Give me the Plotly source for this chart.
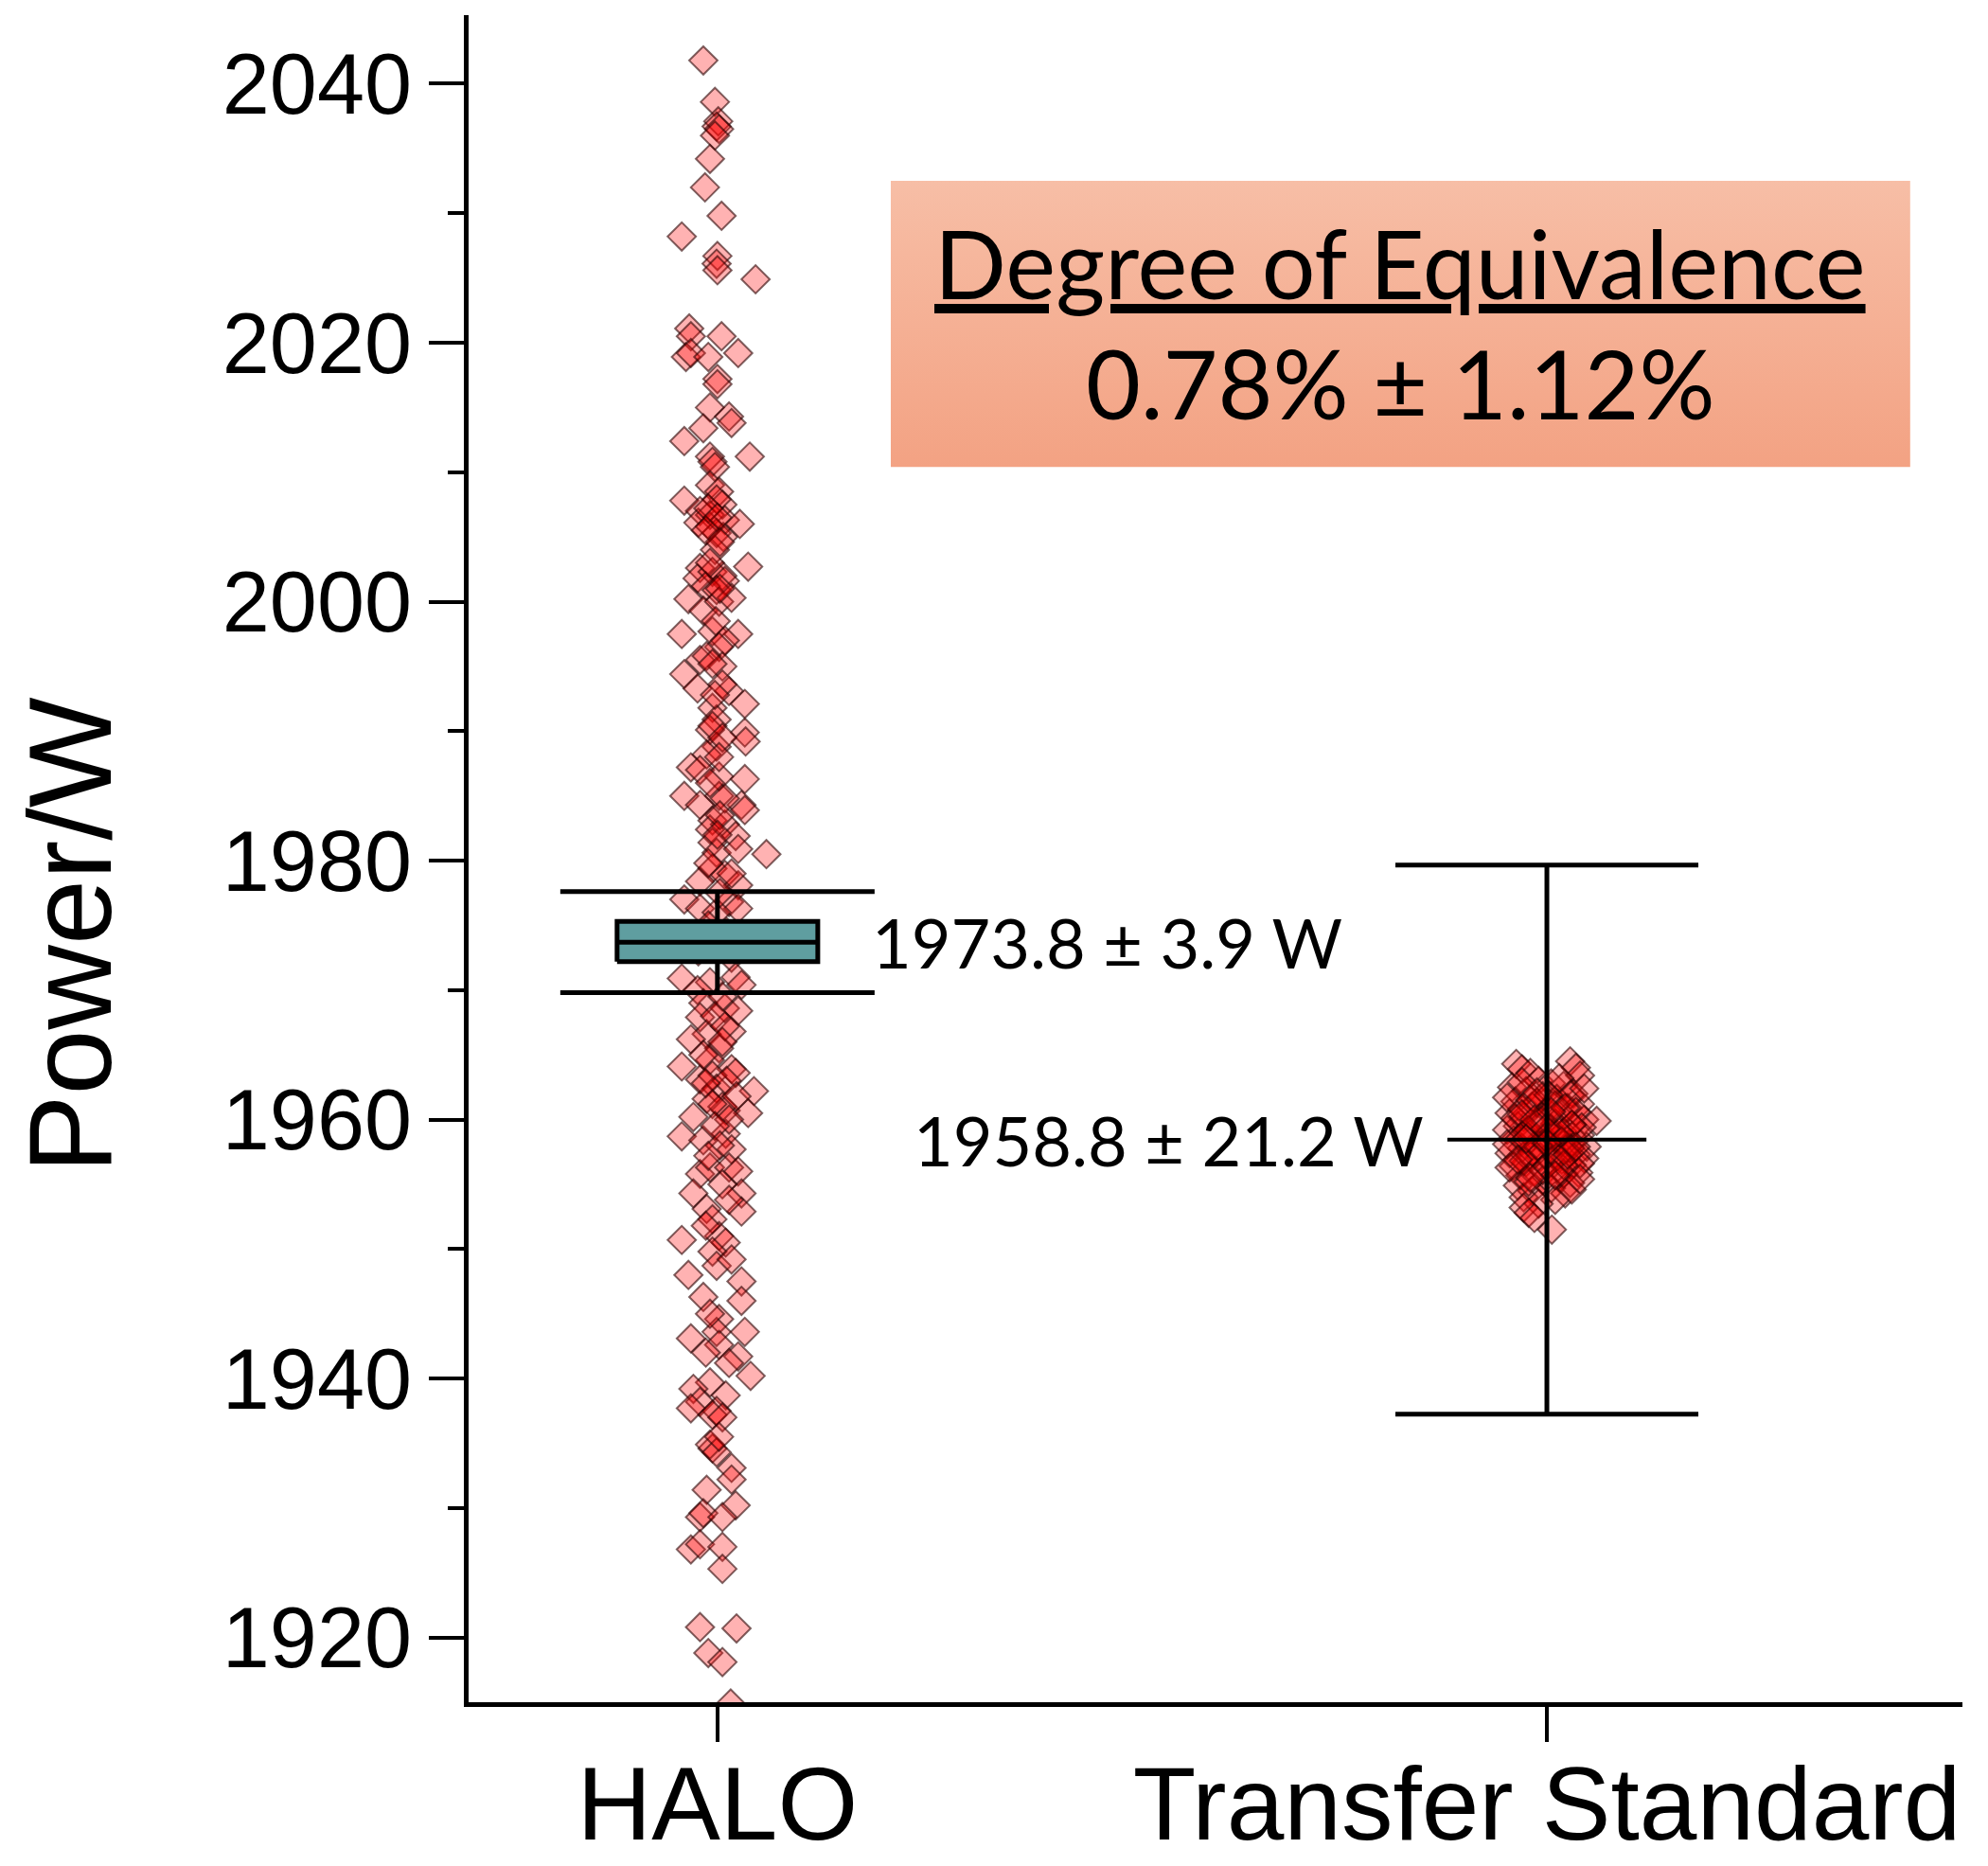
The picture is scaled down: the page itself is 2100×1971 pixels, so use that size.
import plotly.graph_objects as go

# ---------------- data ----------------
categories = ["HALO", "Transfer Standard"]

halo_power = [
    2041.8, 2038.6, 2037.1, 2036.7, 2036.5, 2036.0, 2034.2, 2032.0, 2029.8, 2028.2,
    2026.7, 2026.1, 2025.6, 2024.9, 2021.1, 2020.5, 2020.5, 2018.9, 2019.2, 2018.9,
    2019.2, 2017.2,
    2016.8, 2015.0, 2014.3, 2013.8, 2013.4, 2012.4, 2011.2, 2011.2, 2010.8, 2010.4,
    2009.0, 2008.5, 2007.8, 2007.5, 2007.9, 2007.0, 2006.7, 2006.3, 2006.0, 2006.1,
    2005.3, 2005.8, 2005.0, 2004.0, 2002.6, 2001.8, 2002.3, 2002.0, 2002.7, 2001.6,
    2001.2, 2000.9, 2000.2, 1999.3, 2000.0, 2000.3, 1997.5, 1997.7, 1997.5, 1997.0,
    1996.5, 1995.5, 1995.8, 1995.0, 1994.4, 1993.3, 1993.1, 1993.6, 1992.1, 1991.8,
    1990.9, 1990.1, 1989.9,
    1990.4, 1989.2, 1988.8, 1988.2, 1987.2, 1987.0, 1986.5, 1986.3, 1985.0, 1985.0,
    1984.3, 1984.3, 1983.9, 1983.1, 1982.8, 1982.4, 1981.9, 1981.4, 1980.6, 1980.9,
    1980.5, 1979.4, 1978.9, 1978.4, 1978.1, 1977.0, 1976.3, 1976.8, 1976.3, 1976.0,
    1975.0, 1974.5, 1973.8, 1973.0, 1972.5,
    1970.9, 1970.6, 1971.0, 1970.4, 1970.0, 1969.0, 1968.6, 1968.4, 1967.9, 1966.8,
    1966.6, 1966.2, 1965.5, 1964.6, 1964.1, 1963.9,
    1963.6, 1963.1, 1963.4, 1962.2, 1962.4, 1961.6, 1960.7, 1960.5, 1960.2, 1961.0,
    1958.7, 1958.4, 1958.9, 1957.7, 1955.8, 1956.3, 1956.3, 1956.0, 1954.3, 1954.3,
    1953.1, 1952.9, 1952.3, 1950.7, 1951.0, 1950.5, 1949.8, 1948.7, 1948.0, 1947.5,
    1946.3, 1946.0, 1944.6, 1943.1, 1943.6, 1943.6, 1942.6, 1941.7, 1941.2, 1940.2,
    1939.7, 1939.2, 1938.2, 1938.7, 1937.5,
    1937.7, 1937.2, 1937.0, 1934.6, 1934.9, 1934.3, 1933.1, 1932.2, 1931.4, 1930.2,
    1929.3, 1929.6, 1929.3, 1926.8, 1927.2, 1927.0, 1925.3, 1920.8, 1920.7, 1918.8,
    1918.1, 1914.9,
    2007.2, 2006.5, 2005.5, 2004.6, 2003.0, 2001.0, 1998.5, 1995.2, 1992.8, 1989.5,
    1988.0, 1986.0, 1984.8, 1983.5, 1982.0, 1979.8, 1979.0, 1977.5, 1969.5, 1968.0,
    1967.2, 1966.0, 1965.0, 1963.0, 1962.8, 1961.8, 1961.2, 1960.0, 1959.5, 1958.0,
    1957.2, 1955.0, 1953.8, 1951.8, 1949.2, 1945.0, 1942.0, 1935.5,
]

# horizontal scatter of each HALO point around its category (axis units)
halo_jitter = [
    -0.017, -0.003, 0.001, -0.001, 0.002, -0.003, -0.009, -0.015, 0.005, -0.043,
    0.000, -0.001, 0.000, 0.046, -0.034, -0.032, 0.005, -0.038, -0.032, -0.011,
    0.025, 0.000,
    0.000, -0.009, 0.014, 0.017, -0.017, -0.040, 0.039, -0.009, -0.006, -0.003,
    -0.009, 0.002, -0.040, 0.006, -0.001, -0.021, -0.009, 0.009, 0.027, -0.023,
    -0.001, -0.009, 0.007, -0.003, -0.021, -0.024, -0.006, 0.006, 0.037, 0.009,
    -0.014, -0.001, -0.035, -0.017, 0.002, 0.017, -0.043, -0.006, 0.025, 0.009,
    0.002, -0.021, -0.013, 0.006, -0.040, -0.024, 0.014, 0.006, 0.033, -0.006,
    -0.001, -0.009, 0.033,
    -0.006, 0.034, -0.001, -0.013, -0.032, -0.021, 0.002, 0.033, -0.040, 0.002,
    -0.021, 0.029, 0.033, -0.006, 0.009, -0.009, 0.022, -0.006, -0.001, 0.025,
    0.059, -0.006, 0.009, -0.021, 0.025, -0.040, -0.021, 0.014, 0.025, -0.001,
    -0.011, 0.011, 0.000, -0.023, 0.017,
    -0.043, -0.009, 0.022, 0.029, -0.024, -0.017, 0.009, 0.025, -0.021, 0.017,
    -0.013, -0.032, 0.002, -0.009, -0.043, 0.017,
    0.022, -0.021, -0.006, 0.044, -0.001, -0.013, 0.010, 0.037, -0.029, 0.006,
    -0.043, -0.017, 0.010, 0.017, -0.021, -0.009, 0.014, 0.025, -0.029, 0.029,
    -0.013, 0.029, -0.006, -0.043, 0.002, 0.010, -0.006, -0.001, -0.035, 0.029,
    -0.017, 0.029, 0.002, -0.032, 0.033, -0.001, 0.002, 0.025, 0.014, 0.040,
    -0.009, -0.029, -0.021, 0.010, -0.001,
    -0.032, -0.006, 0.006, -0.006, -0.009, -0.001, 0.017, 0.017, -0.013, 0.022,
    -0.021, -0.017, 0.006, -0.032, -0.021, 0.006, 0.006, -0.021, 0.023, -0.011,
    0.006, 0.016,
    -0.011, 0.000, -0.014, 0.003, -0.009, 0.003, -0.002, -0.006, -0.003, 0.006,
    0.002, -0.009, 0.009, 0.003, 0.000, -0.011, 0.017, 0.003, 0.006, -0.003,
    0.009, 0.006, -0.017, 0.011, -0.014, 0.023, -0.006, 0.014, -0.003, 0.003,
    -0.011, 0.006, 0.014, -0.014, 0.017, -0.009, -0.014, 0.002,
]

ts_power = [
    1964.3, 1963.9, 1963.6, 1964.5, 1964.0, 1963.4,
    1963.0, 1962.8, 1962.5, 1962.6, 1962.2, 1962.0, 1961.8, 1961.6, 1961.4, 1961.2,
    1961.0, 1960.9, 1960.7, 1960.5, 1960.3, 1960.2, 1960.0, 1959.9, 1959.8, 1959.6,
    1959.5, 1959.3, 1959.2, 1959.0, 1958.9, 1958.8, 1958.6, 1958.5, 1958.4, 1958.2,
    1958.0, 1957.9, 1957.8, 1957.6, 1957.4, 1957.3, 1957.1, 1957.0, 1956.9, 1956.7,
    1956.5, 1956.4, 1956.2, 1956.0, 1955.9, 1955.7, 1955.5, 1955.3, 1955.1, 1954.9,
    1954.7, 1954.5, 1954.3, 1954.0, 1953.8, 1953.5,
    1953.2, 1952.8, 1952.4, 1951.5,
    1962.9, 1961.9, 1961.3, 1960.6, 1960.1, 1959.7, 1959.1, 1958.7, 1958.3, 1957.7,
    1957.2, 1956.8, 1956.3, 1955.8, 1955.2, 1954.6, 1963.2, 1962.4, 1961.7, 1960.8,
    1959.4, 1958.1, 1956.6, 1955.4,
    1961.5, 1961.1, 1960.4, 1960.9, 1959.9, 1959.6, 1959.2, 1958.9, 1958.6, 1958.3,
    1958.0, 1957.8, 1957.5, 1957.1, 1956.8, 1956.5, 1956.1, 1955.7, 1961.9, 1960.0,
    1959.0, 1958.5, 1957.3, 1956.9, 1962.1, 1955.5, 1960.6, 1957.9, 1959.3, 1958.2,
]

ts_jitter = [
    -0.037, -0.030, -0.020, 0.028, 0.035, 0.040,
    -0.010, 0.005, -0.042, 0.020, -0.025, 0.032, -0.005, 0.012, -0.038, 0.040,
    -0.018, 0.025, 0.000, -0.045, 0.015, -0.028, 0.045, 0.060, -0.010, 0.030,
    -0.035, 0.005, -0.048, 0.020, -0.020, 0.040, -0.002, 0.012, -0.040, 0.028,
    -0.015, 0.048, -0.030, 0.008, -0.045, 0.035, -0.008, 0.045, 0.018, -0.025,
    0.030, -0.040, 0.002, -0.015, 0.038, -0.032, 0.015, -0.005, 0.028, -0.035,
    0.005, -0.018, 0.022, -0.028, 0.010, -0.010,
    -0.028, -0.022, -0.015, 0.006,
    -0.030, 0.028, -0.012, 0.035, -0.038, 0.010, -0.025, 0.030, 0.000, 0.022,
    -0.020, 0.005, -0.045, 0.020, -0.022, 0.030, 0.015, 0.045, -0.048, -0.030,
    0.042, -0.048, 0.040, 0.040,
    -0.020, 0.010, -0.030, 0.022, -0.008, 0.030, -0.022, 0.008, -0.032, 0.018,
    -0.010, 0.028, -0.018, 0.012, -0.028, 0.020, -0.005, 0.010, 0.002, -0.015,
    0.015, -0.025, 0.025, -0.035, -0.012, -0.020, 0.005, 0.035, -0.002, 0.000,
]

# summary values (drawn position and printed labels)
halo_mean = 1973.7
halo_unc = 3.9
halo_box_low = 1972.2
halo_box_high = 1975.3
ts_mean = 1958.45
ts_unc = 21.2
halo_label = "1973.8 ± 3.9 W"
ts_label = "1958.8 ± 21.2 W"
doe_value = 0.78
doe_unc = 1.12

# ---------------- styling constants ----------------
AXIS_FONT = "Liberation Sans, Arial, sans-serif"
TEXT_FONT = "Lato, Carlito, Calibri, sans-serif"
PT_FILL = "rgba(255,0,0,0.30)"
PT_LINE = "rgba(40,0,0,0.60)"
BOX_HALF = 0.121
TS_LINE_HALF = 0.120

fig = go.Figure()

# scatter points
fig.add_trace(go.Scatter(
    x=[0 + d for d in halo_jitter], y=halo_power, mode="markers",
    marker=dict(symbol="diamond", size=23, color=PT_FILL,
                line=dict(color=PT_LINE, width=2)),
    hoverinfo="y", showlegend=False))
fig.add_trace(go.Scatter(
    x=[1 + d for d in ts_jitter], y=ts_power, mode="markers",
    marker=dict(symbol="diamond", size=23, color=PT_FILL,
                line=dict(color=PT_LINE, width=2)),
    hoverinfo="y", showlegend=False))

# HALO uncertainty bar
fig.add_trace(go.Scatter(
    x=[0], y=[halo_mean], mode="markers",
    marker=dict(size=1, color="rgba(0,0,0,0)"),
    error_y=dict(type="data", array=[halo_unc], symmetric=True,
                 width=166, thickness=5, color="black"),
    hoverinfo="skip", showlegend=False))

# HALO box
fig.add_trace(go.Scatter(
    x=[-BOX_HALF, BOX_HALF, BOX_HALF, -BOX_HALF, -BOX_HALF],
    y=[halo_box_low, halo_box_low, halo_box_high, halo_box_high, halo_box_low],
    mode="lines", fill="toself", fillcolor="#5f9ea0",
    line=dict(color="black", width=5), hoverinfo="skip", showlegend=False))
fig.add_trace(go.Scatter(
    x=[-BOX_HALF, BOX_HALF], y=[halo_mean, halo_mean], mode="lines",
    line=dict(color="black", width=5), hoverinfo="skip", showlegend=False))

# Transfer standard uncertainty bar with centre line
fig.add_trace(go.Scatter(
    x=[1], y=[ts_mean], mode="markers",
    marker=dict(size=1, color="rgba(0,0,0,0)"),
    error_y=dict(type="data", array=[ts_unc], symmetric=True,
                 width=160, thickness=5, color="black"),
    error_x=dict(type="data", array=[TS_LINE_HALF], symmetric=True,
                 width=0, thickness=4, color="black"),
    hoverinfo="skip", showlegend=False))

# Degree of equivalence panel (gradient box)
bx0, bx1, by0, by1 = 0.209, 1.438, 2010.4, 2032.5
fig.add_trace(go.Scatter(
    x=[bx0, bx1, bx1, bx0, bx0], y=[by0, by0, by1, by1, by0],
    mode="lines", fill="toself", line=dict(width=0, color="rgba(0,0,0,0)"),
    fillgradient=dict(type="vertical",
                      colorscale=[[0, "#f3a283"], [1, "#f7bea6"]]),
    hoverinfo="skip", showlegend=False))

fig.add_annotation(
    x=(bx0 + bx1) / 2, y=2026.2, xref="x", yref="y",
    text="<u>Degree of Equivalence</u>",
    showarrow=False, font=dict(family=TEXT_FONT, size=100, color="black"),
    xanchor="center", yanchor="middle", align="center")
fig.add_annotation(
    x=(bx0 + bx1) / 2, y=2016.9, xref="x", yref="y",
    text=f"{doe_value:.2f}% ± {doe_unc:.2f}%",
    showarrow=False, font=dict(family=TEXT_FONT, size=100, color="black"),
    xanchor="center", yanchor="middle", align="center")

fig.add_annotation(
    x=0.184, y=halo_mean, xref="x", yref="y",
    text=halo_label, showarrow=False,
    font=dict(family=TEXT_FONT, size=72, color="black"),
    xanchor="left", yanchor="middle")
fig.add_annotation(
    x=0.854, y=ts_mean, xref="x", yref="y",
    text=ts_label, showarrow=False,
    font=dict(family=TEXT_FONT, size=72, color="black"),
    xanchor="right", yanchor="middle")

# y-axis title
fig.add_annotation(
    x=-0.2668, y=0.455, xref="paper", yref="paper", text="Power/W",
    textangle=-90, showarrow=False,
    font=dict(family=AXIS_FONT, size=124, color="black"),
    xanchor="center", yanchor="middle")

fig.update_layout(
    width=2100, height=1971,
    margin=dict(l=495, r=27, t=16, b=173, autoexpand=False),
    plot_bgcolor="white", paper_bgcolor="white",
    showlegend=False,
    font=dict(family=AXIS_FONT, color="black"),
)
fig.update_xaxes(
    range=[-0.300, 1.501], tickvals=[0, 1], ticktext=categories,
    ticks="outside", ticklen=37, tickwidth=4, tickcolor="black",
    showline=True, linewidth=5, linecolor="black",
    showgrid=False, zeroline=False, automargin=False,
    ticklabelstandoff=-28,
    tickfont=dict(family=AXIS_FONT, size=109, color="black"),
)
fig.update_yaxes(
    range=[1915.0, 2045.3], tick0=1920, dtick=20,
    ticks="outside", ticklen=37, tickwidth=4, tickcolor="black",
    showline=True, linewidth=5, linecolor="black",
    showgrid=False, zeroline=False, automargin=False,
    tickfont=dict(family=AXIS_FONT, size=90, color="black"),
    minor=dict(ticks="outside", ticklen=17, tickwidth=4, tickcolor="black",
               dtick=10, tick0=1910, showgrid=False),
)

fig.write_html("out.html")
